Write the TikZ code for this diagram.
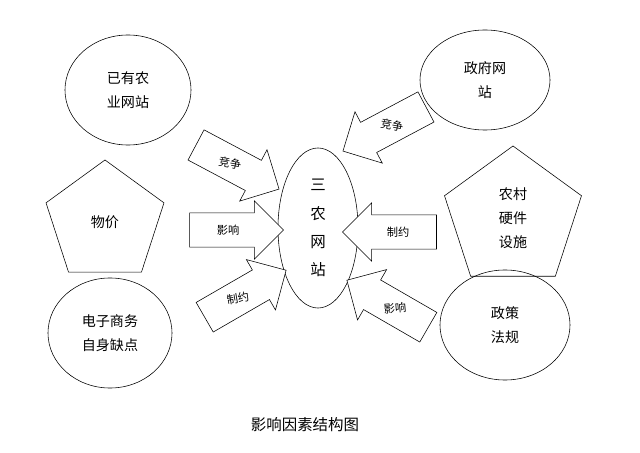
\documentclass[tikz,border=0pt]{standalone}
\usepackage{fontspec}
\setmainfont{Noto Sans CJK SC}
\usetikzlibrary{shapes.geometric,shapes.arrows}
\begin{document}
\begin{tikzpicture}[x=0.025cm,y=-0.025cm,
  el/.style={draw,ellipse,align=center,font=\fontsize{10}{17}\selectfont,inner sep=0pt},
  pent/.style={draw,regular polygon,regular polygon sides=5,align=center,font=\fontsize{10}{17}\selectfont,inner sep=0pt},
  arr/.style={draw,single arrow,minimum height=2.35cm,single arrow head extend=0.3cm,inner xsep=0pt,inner ysep=0.42cm,fill=white},
  lbl/.style={font=\fontsize{8}{10}\selectfont,inner sep=1pt}]
\useasboundingbox (0,0) rectangle (640,453);
\node[el,minimum width=3.15cm,minimum height=2.75cm] (a) at (128,90) {已有农\\业网站};
\node[pent,minimum size=3.1cm] (b) at (105,222) {物价};
\node[el,minimum width=3.1cm,minimum height=2.75cm] (c) at (110,333) {电子商务\\自身缺点};
\node[el,minimum width=3.25cm,minimum height=2.5cm] (d) at (485,80) {政府网\\站};
\node[pent,minimum size=3.6cm] (e) at (513,218) {农村\\硬件\\设施};
\node[el,minimum width=3.25cm,minimum height=2.75cm] (f) at (505,325) {政策\\法规};
\node[el,minimum width=2.0cm,minimum height=4.0cm,font=\fontsize{11}{20}\selectfont] (s) at (318,228) {三\\农\\网\\站};
\node[arr,rotate=-28] (a1) at (230,163) {};
\node[arr] (a2) at (228,230) {};
\node[arr,rotate=30] (a3) at (238,298) {};
\node[arr,rotate=208] (a4) at (392,125) {};
\node[arr,rotate=180] (a5) at (398,232) {};
\node[arr,rotate=150] (a6) at (395,308) {};
\node[lbl,rotate=-10] (t1) at (a1) {竞争};
\node[lbl] (t2) at (a2) {影响};
\node[lbl,rotate=10] (t3) at (a3) {制约};
\node[lbl,rotate=-10] (t4) at (a4) {竞争};
\node[lbl] (t5) at (a5) {制约};
\node[lbl,rotate=5] (t6) at (a6) {影响};
\node[font=\fontsize{11}{13}\selectfont] (cap) at (305,425) {影响因素结构图};
\end{tikzpicture}
\end{document}
